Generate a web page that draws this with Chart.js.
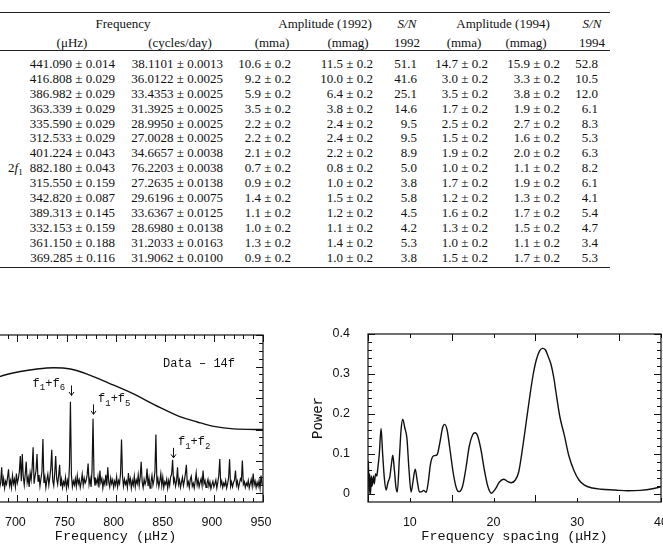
<!DOCTYPE html>
<html>
<head>
<meta charset="utf-8">
<script src="https://cdn.jsdelivr.net/npm/chart.js@4.4.1/dist/chart.umd.min.js"></script>
<style>
  html, body { margin: 0; padding: 0; background: #fff; }
  body { width: 663px; height: 544px; position: relative; overflow: hidden;
         font-family: "Liberation Serif", "DejaVu Serif", serif; color: #111; }
  .c { position: absolute; white-space: nowrap; font-size: 13px; line-height: 15px; }
  .rule { position: absolute; left: 0; width: 610px; height: 1.4px; background: #222; }
  canvas { position: absolute; }
</style>
</head>
<body>
<div id="table"></div>
<canvas id="specChart" width="343" height="224" style="left:-60px;top:320px;"></canvas>
<canvas id="spacingChart" width="400" height="234" style="left:300px;top:310px;"></canvas>
<script>
// ---- table data ----
var freqMuHz    = ['441.090', '416.808', '386.982', '363.339', '335.590', '312.533', '401.224', '882.180', '315.550', '342.820', '389.313', '332.153', '361.150', '369.285'];
var freqMuHzErr = ['0.014', '0.029', '0.029', '0.029', '0.029', '0.029', '0.043', '0.043', '0.159', '0.087', '0.145', '0.159', '0.188', '0.116'];
var freqCd      = ['38.1101', '36.0122', '33.4353', '31.3925', '28.9950', '27.0028', '34.6657', '76.2203', '27.2635', '29.6196', '33.6367', '28.6980', '31.2033', '31.9062'];
var freqCdErr   = ['0.0013', '0.0025', '0.0025', '0.0025', '0.0025', '0.0025', '0.0038', '0.0038', '0.0138', '0.0075', '0.0125', '0.0138', '0.0163', '0.0100'];
var amp92mma    = [10.6, 9.2, 5.9, 3.5, 2.2, 2.2, 2.1, 0.7, 0.9, 1.4, 1.1, 1.0, 1.3, 0.9];
var amp92mmag   = [11.5, 10.0, 6.4, 3.8, 2.4, 2.4, 2.2, 0.8, 1.0, 1.5, 1.2, 1.1, 1.4, 1.0];
var sn92        = [51.1, 41.6, 25.1, 14.6, 9.5, 9.5, 8.9, 5.0, 3.8, 5.8, 4.5, 4.2, 5.3, 3.8];
var amp94mma    = [14.7, 3.0, 3.5, 1.7, 2.5, 1.5, 1.9, 1.0, 1.7, 1.2, 1.6, 1.3, 1.0, 1.5];
var amp94mmag   = [15.9, 3.3, 3.8, 1.9, 2.7, 1.6, 2.0, 1.1, 1.9, 1.3, 1.7, 1.5, 1.1, 1.7];
var sn94        = [52.8, 10.5, 12.0, 6.1, 8.3, 5.3, 6.3, 8.2, 6.1, 4.1, 5.4, 4.7, 3.4, 5.3];
var ampErr = 0.2;

// ---- left panel: amplitude spectrum of residuals (1 uHz sampling from 680 uHz) ----
var SPEC_START = 680;
var specAmp = [
  0.12, 0.20, 0.08, 0.16, 0.40, 0.10, 0.22, 0.07, 0.18, 0.13,
  0.24, 0.37, 0.11, 0.19, 0.08, 0.27, 0.14, 0.21, 0.09, 0.30,
  0.15, 0.22, 0.33, 0.58, 0.18, 0.61, 0.25, 0.12, 0.29, 0.49,
  0.16, 0.24, 0.09, 0.31, 0.20, 0.38, 0.72, 0.14, 0.26, 0.35,
  0.61, 0.18, 0.28, 0.10, 0.22, 0.33, 0.85, 0.15, 0.25, 0.08,
  0.20, 0.29, 0.12, 0.24, 0.38, 0.68, 0.19, 0.11, 0.30, 0.58,
  0.22, 0.13, 0.27, 0.44, 0.10, 0.21, 0.08, 0.17, 0.12, 0.24,
  0.07, 0.19, 0.11, 0.42, 1.44, 0.28, 0.09, 0.18, 0.12, 0.22,
  0.10, 0.27, 0.14, 0.20, 0.08, 0.17, 0.29, 0.12, 0.23, 0.15,
  0.19, 0.28, 0.46, 0.13, 0.22, 0.09, 0.36, 1.17, 0.24, 0.11,
  0.20, 0.14, 0.25, 0.08, 0.35, 0.16, 0.22, 0.07, 0.19, 0.13,
  0.28, 0.11, 0.40, 0.17, 0.09, 0.23, 0.14, 0.20, 0.08, 0.18,
  0.12, 0.25, 0.09, 0.19, 0.14, 0.30, 0.84, 0.26, 0.10, 0.21,
  0.13, 0.18, 0.08, 0.31, 0.15, 0.22, 0.07, 0.19, 0.12, 0.26,
  0.09, 0.20, 0.14, 0.28, 0.11, 0.24, 0.49, 0.17, 0.08, 0.21,
  0.13, 0.19, 0.38, 0.10, 0.23, 0.07, 0.17, 0.27, 0.12, 0.20,
  0.33, 0.92, 0.14, 0.22, 0.09, 0.18, 0.30, 0.11, 0.24, 0.08,
  0.17, 0.13, 0.21, 0.07, 0.19, 0.11, 0.25, 0.29, 0.52, 0.16,
  0.22, 0.10, 0.18, 0.40, 0.13, 0.20, 0.08, 0.16, 0.24, 0.11,
  0.19, 0.30, 0.44, 0.12, 0.17, 0.08, 0.21, 0.26, 0.10, 0.15,
  0.07, 0.18, 0.31, 0.12, 0.20, 0.09, 0.16, 0.22, 0.11, 0.35,
  0.14, 0.19, 0.08, 0.15, 0.21, 0.10, 0.17, 0.06, 0.13, 0.18,
  0.09, 0.14, 0.20, 0.07, 0.16, 0.27, 0.53, 0.12, 0.18, 0.08,
  0.15, 0.11, 0.19, 0.07, 0.14, 0.24, 0.53, 0.10, 0.17, 0.09,
  0.16, 0.20, 0.35, 0.12, 0.18, 0.07, 0.14, 0.22, 0.19, 0.51,
  0.13, 0.17, 0.08, 0.15, 0.11, 0.19, 0.07, 0.14, 0.21, 0.10,
  0.30, 0.12, 0.18, 0.08, 0.16, 0.10, 0.19, 0.07, 0.27, 0.13,
  0.11
];
// smooth detection threshold curve
var thrFreq = [660, 682, 703, 720, 737, 754, 771, 794, 816, 845, 866, 883, 900, 920, 950];
var thrAmp  = [1.70, 1.84, 1.92, 1.96, 1.98, 1.96, 1.88, 1.73, 1.58, 1.35, 1.20, 1.12, 1.05, 1.01, 1.00];
var specTicks = [650, 700, 750, 800, 850, 900, 950];

// ---- right panel: power vs frequency spacing ----
var spacingFreq = [5.0, 5.05, 5.12, 5.2, 5.3, 5.4, 5.5, 5.65, 5.75, 5.9, 6.05, 6.15, 6.35, 6.56, 6.75, 6.95,
  7.15, 7.4, 7.6, 7.8, 7.96, 8.15, 8.35, 8.5, 8.75, 8.95, 9.15, 9.4, 9.65, 9.9, 10.15, 10.4, 10.64,
  10.9, 11.15, 11.45, 11.65, 11.95, 12.2, 12.45, 12.75, 13.0, 13.25, 13.6, 13.9, 14.15, 14.45, 14.8,
  15.2, 15.6, 15.9, 16.3, 16.7, 17.1, 17.5, 17.8, 18.1, 18.5, 18.9, 19.3, 19.75, 20.2, 20.7, 21.2,
  21.7, 22.1, 22.6, 23.0, 23.5, 23.9, 24.3, 24.7, 25.1, 25.5, 25.85, 26.2, 26.5, 26.85, 27.2, 27.45,
  27.9, 28.45, 29.0, 29.65, 30.2, 30.85, 31.8, 32.85, 34.5, 36.0, 37.5, 39.0, 40.0];
var spacingPower = [0.06, 0.082, 0.0, 0.05, 0.0, 0.045, 0.02, 0.045, 0.025, 0.05, 0.045, 0.06, 0.10, 0.164, 0.10, 0.04,
  0.01, 0.03, 0.042, 0.075, 0.097, 0.06, 0.015, 0.005, 0.09, 0.16, 0.187, 0.165, 0.139, 0.06, 0.005, 0.035, 0.062,
  0.03, 0.005, 0.006, 0.009, 0.004, 0.03, 0.073, 0.094, 0.096, 0.098, 0.13, 0.165, 0.174, 0.16, 0.11,
  0.05, 0.012, 0.006, 0.02, 0.065, 0.12, 0.148, 0.153, 0.145, 0.11, 0.06, 0.02, 0.002, 0.012, 0.03, 0.037,
  0.031, 0.028, 0.035, 0.055, 0.12, 0.18, 0.24, 0.295, 0.335, 0.358, 0.364, 0.36, 0.345, 0.325, 0.29, 0.255,
  0.195, 0.147, 0.095, 0.056, 0.035, 0.022, 0.015, 0.012, 0.01, 0.008, 0.009, 0.013, 0.018];
var spacingTicksX = [10, 20, 30, 40];
var spacingTicksY = [0, 0.1, 0.2, 0.3, 0.4];

// ---------------- table ----------------
var table = document.getElementById('table');
function cell(html, x, y, align) {
  var d = document.createElement('div');
  d.className = 'c';
  d.innerHTML = html;
  d.style.left = x + 'px';
  d.style.top = (y - 7.5) + 'px';
  if (align === 'center') d.style.transform = 'translateX(-50%)';
  if (align === 'right') d.style.transform = 'translateX(-100%)';
  table.appendChild(d);
}
function rule(y) {
  var r = document.createElement('div');
  r.className = 'rule';
  r.style.top = y + 'px';
  table.appendChild(r);
}
rule(11.5); rule(50); rule(267);

cell('Frequency', 123, 23.5, 'center');
cell('Amplitude (1992)', 325, 23.5, 'center');
cell('<i>S/N</i>', 407, 23.5, 'center');
cell('Amplitude (1994)', 503, 23.5, 'center');
cell('<i>S/N</i>', 592, 23.5, 'center');
cell('(\u03bcHz)', 72, 42, 'center');
cell('(cycles/day)', 180, 42, 'center');
cell('(mma)', 272, 42, 'center');
cell('(mmag)', 348, 42, 'center');
cell('1992', 407, 42, 'center');
cell('(mma)', 464, 42, 'center');
cell('(mmag)', 526, 42, 'center');
cell('1994', 592, 42, 'center');

var pm = ' \u00b1 ';
var colRight = [115, 223, 291, 373, 417, 488, 560, 598];
var rowY = function (i) { return 63.3 + i * 14.93; };
freqMuHz.forEach(function (f, i) {
  var y = rowY(i);
  cell(f + pm + freqMuHzErr[i], colRight[0], y, 'right');
  cell(freqCd[i] + pm + freqCdErr[i], colRight[1], y, 'right');
  cell(amp92mma[i].toFixed(1) + pm + ampErr.toFixed(1), colRight[2], y, 'right');
  cell(amp92mmag[i].toFixed(1) + pm + ampErr.toFixed(1), colRight[3], y, 'right');
  cell(sn92[i].toFixed(1), colRight[4], y, 'right');
  cell(amp94mma[i].toFixed(1) + pm + ampErr.toFixed(1), colRight[5], y, 'right');
  cell(amp94mmag[i].toFixed(1) + pm + ampErr.toFixed(1), colRight[6], y, 'right');
  cell(sn94[i].toFixed(1), colRight[7], y, 'right');
});
cell('2<i>f</i><span style="font-size:9px;position:relative;top:3px">1</span>', 8, rowY(7), 'left');

// ---------------- charts ----------------
Chart.defaults.color = '#111';
var ink = '#111';
var tickFont = { family: '"Liberation Sans", Arial, sans-serif', size: 12.5 };
var titleFont = { family: '"Liberation Mono", "DejaVu Sans Mono", monospace', size: 13.5, lineHeight: 1 };

// boxed frame with inward major/minor ticks on all four sides
var frameTicks = {
  id: 'frameTicks',
  afterDatasetsDraw: function (chart, args, o) {
    var ctx = chart.ctx, a = chart.chartArea;
    var xs = chart.scales.x, ys = chart.scales.y;
    ctx.save();
    ctx.strokeStyle = ink;
    ctx.lineWidth = 1.2;
    ctx.strokeRect(a.left, a.top, a.right - a.left, a.bottom - a.top);
    ctx.lineWidth = 1;
    ctx.beginPath();
    var i, v, p, len;
    for (i = 0; ; i++) {
      v = o.xStart + i * o.xMinor;
      if (v > xs.max + 1e-9) break;
      p = Math.round(xs.getPixelForValue(v)) + 0.5;
      len = i % o.xEvery === 0 ? 7 : 4;
      ctx.moveTo(p, a.bottom); ctx.lineTo(p, a.bottom - len);
      ctx.moveTo(p, a.top); ctx.lineTo(p, a.top + len);
    }
    for (i = 0; ; i++) {
      v = o.yStart + i * o.yMinor;
      if (v > ys.max + 1e-9) break;
      p = Math.round(ys.getPixelForValue(v)) + 0.5;
      len = i % o.yEvery === 0 ? 7 : 4;
      ctx.moveTo(a.left, p); ctx.lineTo(a.left + len, p);
      ctx.moveTo(a.right, p); ctx.lineTo(a.right - len, p);
    }
    ctx.stroke();
    ctx.restore();
  }
};

// peak labels f1+f6 etc with arrows
var combos = [
  { subs: ['1', '6'], tx: 748.5, ty: 1.73, align: 'right', ax: 754.3, ay: 1.62 },
  { subs: ['1', '5'], tx: 782.1, ty: 1.48, align: 'left', ax: 777.0, ay: 1.32 },
  { subs: ['1', '2'], tx: 863.5, ty: 0.80, align: 'left', ax: 858.2, ay: 0.63 }
];
var specNotes = {
  id: 'specNotes',
  afterDatasetsDraw: function (chart) {
    var ctx = chart.ctx, xs = chart.scales.x, ys = chart.scales.y;
    var mainF = '12px "Liberation Mono", monospace', subF = '9px "Liberation Mono", monospace';
    ctx.save();
    ctx.fillStyle = ink;
    ctx.strokeStyle = ink;
    ctx.textBaseline = 'middle';
    ctx.font = mainF;
    ctx.textAlign = 'right';
    ctx.fillText('Data \u2013 14f', xs.getPixelForValue(921.5), ys.getPixelForValue(2.05));
    ctx.textAlign = 'left';
    combos.forEach(function (c) {
      var parts = [['f', 0], [c.subs[0], 1], ['+f', 0], [c.subs[1], 1]];
      var w = 0;
      parts.forEach(function (p) { ctx.font = p[1] ? subF : mainF; w += ctx.measureText(p[0]).width; });
      var x = xs.getPixelForValue(c.tx), y = ys.getPixelForValue(c.ty);
      if (c.align === 'right') x -= w;
      parts.forEach(function (p) {
        ctx.font = p[1] ? subF : mainF;
        ctx.fillText(p[0], x, p[1] ? y + 4 : y);
        x += ctx.measureText(p[0]).width;
      });
      var ax = Math.round(xs.getPixelForValue(c.ax)) + 0.5, ay = ys.getPixelForValue(c.ay);
      ctx.lineWidth = 1;
      ctx.beginPath();
      ctx.moveTo(ax, ay - 5); ctx.lineTo(ax, ay + 5);
      ctx.moveTo(ax - 2.5, ay + 1.5); ctx.lineTo(ax, ay + 5); ctx.lineTo(ax + 2.5, ay + 1.5);
      ctx.stroke();
    });
    ctx.restore();
  }
};

new Chart(document.getElementById('specChart'), {
  type: 'line',
  data: {
    datasets: [{
      data: specAmp.map(function (a, i) { return { x: SPEC_START + i, y: a }; }),
      borderColor: ink, borderWidth: 1.2, pointRadius: 0, tension: 0
    }, {
      data: thrFreq.map(function (f, i) { return { x: f, y: thrAmp[i] }; }),
      borderColor: ink, borderWidth: 1.4, pointRadius: 0, cubicInterpolationMode: 'monotone'
    }]
  },
  options: {
    responsive: false, animation: false, events: [],
    layout: { padding: { left: 28.25, right: 20, top: 15, bottom: 0 } },
    plugins: {
      legend: { display: false }, tooltip: { enabled: false },
      frameTicks: { xStart: 650, xMinor: 10, xEvery: 5, yStart: 0, yMinor: 0.125, yEvery: 4 }
    },
    scales: {
      x: {
        type: 'linear', min: 650, max: 950,
        border: { display: false }, grid: { display: false },
        afterBuildTicks: function (s) { s.ticks = specTicks.map(function (v) { return { value: v }; }); },
        afterFit: function (s) { s.height = 42; },
        ticks: { font: tickFont, padding: 5, labelOffset: -2, maxRotation: 0 },
        title: { display: true, text: 'Frequency (\u03bcHz)', font: titleFont, padding: { top: 0, bottom: 1 } }
      },
      y: { display: false, min: -0.15, max: 2.5 }
    }
  },
  plugins: [frameTicks, specNotes]
});

new Chart(document.getElementById('spacingChart'), {
  type: 'line',
  data: {
    datasets: [{
      data: spacingFreq.map(function (f, i) { return { x: f, y: spacingPower[i] }; }),
      borderColor: ink, borderWidth: 1.4, pointRadius: 0, cubicInterpolationMode: 'monotone'
    }]
  },
  options: {
    responsive: false, animation: false, events: [],
    layout: { padding: { left: 0, right: 39, top: 24, bottom: 0 } },
    plugins: {
      legend: { display: false }, tooltip: { enabled: false },
      frameTicks: { xStart: 5, xMinor: 5, xEvery: 2, yStart: 0, yMinor: 0.02, yEvery: 5 }
    },
    scales: {
      x: {
        type: 'linear', min: 5, max: 40,
        border: { display: false }, grid: { display: false },
        afterBuildTicks: function (s) { s.ticks = spacingTicksX.map(function (v) { return { value: v }; }); },
        afterFit: function (s) { s.height = 42; },
        ticks: { font: tickFont, padding: 5, maxRotation: 0 },
        title: { display: true, text: 'Frequency spacing (\u03bcHz)', font: titleFont, padding: { top: 0, bottom: 1 } }
      },
      y: {
        min: -0.02, max: 0.4,
        border: { display: false }, grid: { display: false },
        afterBuildTicks: function (s) { s.ticks = spacingTicksY.map(function (v) { return { value: v }; }); },
        afterFit: function (s) { s.width = 68; },
        ticks: { font: tickFont, padding: 10, callback: function (v) { return v === 0 ? '0' : v.toFixed(1); } },
        title: { display: true, text: 'Power', font: { family: titleFont.family, size: 14, lineHeight: 1 }, padding: { top: 11, bottom: 0 } }
      }
    }
  },
  plugins: [frameTicks]
});
</script>
</body>
</html>
